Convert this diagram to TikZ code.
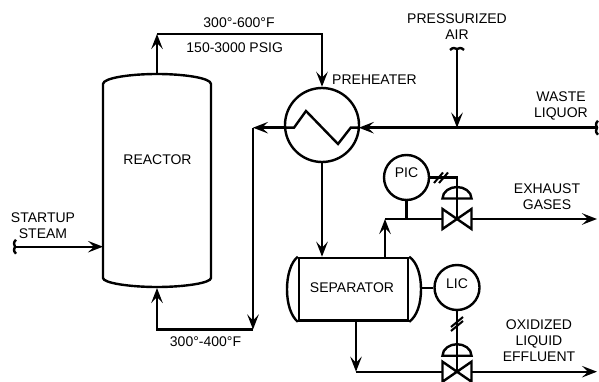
\documentclass[tikz,border=0pt]{standalone}
\usepackage{fontspec}
\setmainfont{Liberation Sans}
\usetikzlibrary{arrows.meta, positioning}

\begin{document}
\begin{tikzpicture}[
    x=1pt, y=-1pt,
    line width=2.4pt,
    pipe/.style={draw, -{Stealth[length=15pt, width=11.5pt, inset=6pt]}},
    lbl/.style={font=\fontsize{14}{16}\selectfont, align=center, inner sep=0pt},
    instr/.style={draw, circle, minimum size=45pt, inner sep=0pt,
                  font=\fontsize{14}{16}\selectfont, text height=10pt, text depth=9pt},
    brk/.pic={\draw (-7,1) .. controls (-4,-2) and (-2,-1) .. (0,0) .. controls (2,-1) and (4,-2) .. (7,1);},
    valve/.pic={\draw[miter limit=3] (-14.5,-10) -- (14.5,10) -- (14.5,-10) -- (-14.5,10) -- cycle;},
    actuator/.pic={\draw (-14.5,0) .. controls (-14.5,-7) and (-7,-11.5) .. (0,-11.5)
                   .. controls (7,-11.5) and (14.5,-7) .. (14.5,0) -- cycle;},
    slashh/.pic={\draw[line width=2pt] (-7,5.5) -- (2,-5) (-2,5.5) -- (7,-5);},
    slashv/.pic={\draw[line width=2pt] (-6,3) -- (6,-7) (-6,7) -- (6,-3);},
  ]
  \useasboundingbox (0,0) rectangle (599,382);

  % Reactor
  \draw (103,278) -- (103,84) .. controls (103,78) and (130,74) .. (157,74)
        .. controls (184,74) and (211,78) .. (211,84) -- (211,278)
        .. controls (211,283) and (184,287) .. (157,287)
        .. controls (130,287) and (103,283) .. (103,278) -- cycle;
  \node[lbl] (reactor) at (157.5,160) {REACTOR};
  \coordinate (reactortop) at (157,74);
  \coordinate (reactorbot) at (157,288);
  \coordinate (reactorin) at (103,246.7);

  % Preheater
  \node[draw, circle, minimum size=74pt, inner sep=0pt] (preheater) at (322,125) {};
  \coordinate (phleft) at (285.2,127.7);
  \coordinate (phright) at (358.8,127.7);
  \draw (phleft) -- (294,127.7) -- (306,111) -- (338,144) -- (350.7,127.7) -- (phright);
  \node[lbl] (phlabel) at (374.5,80) {PREHEATER};

  % Separator
  \node[draw, minimum width=109pt, minimum height=62.7pt, inner sep=0pt] (separator) at (353.5,289.3) {};
  \node[lbl] (seplabel) at (352,288) {SEPARATOR};
  \draw (separator.north west) .. controls (291,262) and (287,275) .. (287,289.3)
        .. controls (287,304) and (291,316) .. (separator.south west);
  \draw (separator.north east) .. controls (417,262) and (421,275) .. (421,289.3)
        .. controls (421,304) and (417,316) .. (separator.south east);
  \coordinate (sepright) at (421,288);

  % Corners and free ends
  \coordinate (topleft) at (157,34);
  \coordinate (topright) at (322,34);
  \coordinate (recycle) at (253,127.7);
  \coordinate (recyclebot) at (253,329.5);
  \coordinate (reactorcorner) at (157,329.5);
  \coordinate (steam) at (15,246.7);
  \coordinate (air) at (457,49);
  \coordinate (airin) at (457,127.7);
  \coordinate (liquor) at (597,127.7);
  \coordinate (gascorner) at (385,219);
  \coordinate (sepgas) at (385,258);
  \coordinate (gastap) at (406.5,219);
  \coordinate (gasend) at (597,219);
  \coordinate (liqtop) at (356,320.7);
  \coordinate (liqcorner) at (356,371.7);
  \coordinate (liqend) at (597,371.7);

  % Main lines
  \draw[pipe] (reactortop) -- (topleft);
  \draw[pipe] (topleft) -- (topright) -- (preheater.north);
  \draw[pipe] (phleft) -- (recycle);
  \draw[pipe] (recycle) -- (recyclebot);
  \draw[pipe] (recyclebot) -- (reactorcorner) -- (reactorbot);
  \draw[pipe] (steam) -- (reactorin);
  \draw[pipe] (liquor) -- (phright);
  \draw[pipe] (air) -- (airin);
  \draw[pipe] (preheater.south) -- (preheater.south |- separator.north);
  \draw[pipe] (sepgas) -- (gascorner);
  \draw[pipe] (separator.south -| liqtop) -- (liqcorner);
  \pic at (steam) [rotate=90] {brk};
  \pic at (air) {brk};
  \pic at (liquor) [rotate=90] {brk};

  % Pressure loop
  \coordinate (valvegas) at (457,219);
  \coordinate (actgas) at (457,198.5);
  \coordinate (sigcorner) at (457,177.5);
  \node[instr] (pic) at (406.5,177.5) {PIC};
  \pic at (valvegas) {valve};
  \pic at (actgas) {actuator};
  \draw (gascorner) -- ([xshift=-14.5pt]valvegas);
  \draw[pipe] ([xshift=14.5pt]valvegas) -- (gasend);
  \draw (pic.south) -- (gastap);
  \draw (actgas) -- (valvegas);
  \draw (pic.east) -- (sigcorner) -- ([yshift=-11.5pt]actgas);
  \pic at (441,177.5) {slashh};

  % Level loop
  \coordinate (valveliq) at (457,371.7);
  \coordinate (actliq) at (457,355.7);
  \node[instr] (lic) at (457,287.5) {LIC};
  \pic at (valveliq) {valve};
  \pic at (actliq) {actuator};
  \draw (liqcorner) -- ([xshift=-14.5pt]valveliq);
  \draw[pipe] ([xshift=14.5pt]valveliq) -- (liqend);
  \draw (sepright) -- (lic.west |- sepright);
  \draw (actliq) -- (valveliq);
  \draw (lic.south) -- ([yshift=-11.5pt]actliq);
  \pic at (457,324) {slashv};

  % Stream labels
  \node[lbl] (hotT) at (239,23) {300°-600°F};
  \node[lbl] (hotP) at (234.7,47.7) {150-3000 PSIG};
  \node[lbl] (coldT) at (205.5,342) {300°-400°F};
  \node[lbl] (steamlabel) at (43,226) {STARTUP\\STEAM};
  \node[lbl] (airlabel) at (457,27) {PRESSURIZED\\AIR};
  \node[lbl] (liquorlabel) at (561,105.5) {WASTE\\LIQUOR};
  \node[lbl] (gaslabel) at (547,197) {EXHAUST\\GASES};
  \node[lbl] (liqlabel) at (539,341) {OXIDIZED\\LIQUID\\EFFLUENT};
\end{tikzpicture}
\end{document}
